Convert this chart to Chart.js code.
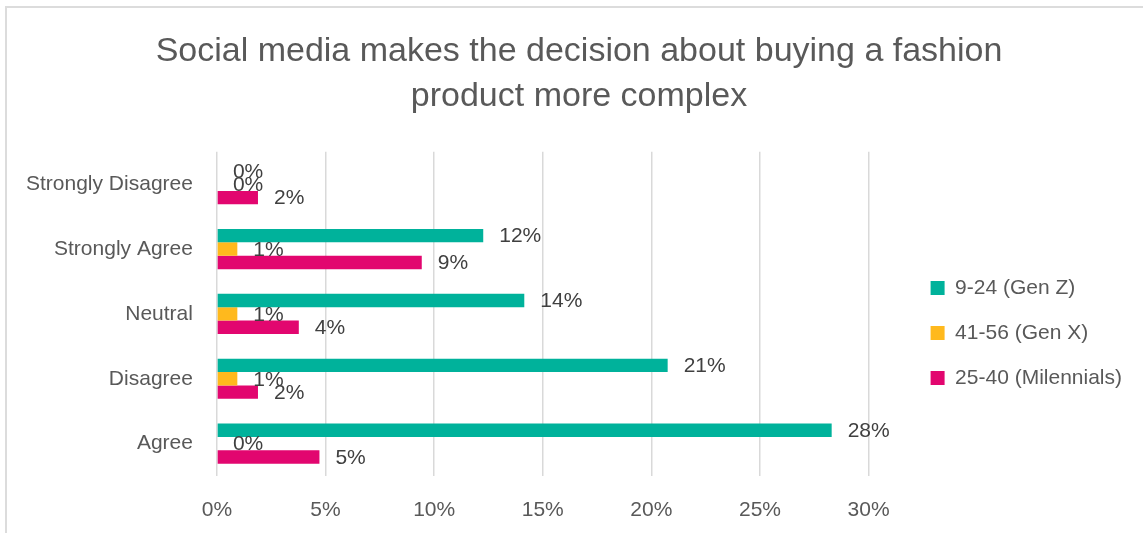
<!DOCTYPE html>
<html>
<head>
<meta charset="utf-8">
<script src="https://cdn.jsdelivr.net/npm/chart.js@4"></script>
<style>
  html, body { margin: 0; padding: 0; background: #fff; overflow: hidden; }
  #wrap { position: relative; width: 1143px; height: 533px; }
  #frame {
    position: absolute; left: 5px; top: 6px; width: 1200px; height: 600px;
    border-top: 2px solid #dcdcdc; border-left: 2px solid #dcdcdc;
  }
  #chart { position: absolute; left: 0; top: 0; }
</style>
</head>
<body>
<div id="wrap">
  <div id="frame"></div>
  <canvas id="chart" width="1143" height="533"></canvas>
</div>
<script>
const categories = ['Strongly Disagree', 'Strongly Agree', 'Neutral', 'Disagree', 'Agree'];
const genZ = [0, 12.26, 14.15, 20.75, 28.30];
const genX = [0, 0.94, 0.94, 0.94, 0];
const millennials = [1.89, 9.43, 3.77, 1.89, 4.72];
const xTicks = [0, 5, 10, 15, 20, 25, 30];

const textGrey = '#595959';
const font = 'Liberation Sans, Arial, sans-serif';

// value labels at the end of every bar
const barLabels = {
  id: 'barLabels',
  afterDatasetsDraw(chart) {
    const ctx = chart.ctx;
    ctx.save();
    ctx.font = `21px ${font}`;
    ctx.fillStyle = '#404040';
    ctx.textAlign = 'left';
    ctx.textBaseline = 'middle';
    chart.data.datasets.forEach((ds, i) => {
      chart.getDatasetMeta(i).data.forEach((bar, j) => {
        ctx.fillText(Math.round(ds.data[j]) + '%', bar.x + 16, bar.y + 1);
      });
    });
    ctx.restore();
  }
};

// legend sits a bit away from the plot, title is centred on the whole frame
const blockShift = {
  id: 'blockShift',
  afterLayout(chart) {
    const lg = chart.legend;
    lg.left += 38; lg.right += 38;
    lg.top += 19; lg.bottom += 19;
    const tb = chart.titleBlock;
    tb.left += 31; tb.right += 31;
  }
};

new Chart(document.getElementById('chart'), {
  type: 'bar',
  data: {
    labels: categories,
    datasets: [
      { label: '9-24 (Gen Z)', data: genZ, backgroundColor: '#00B29B' },
      { label: '41-56 (Gen X)', data: genX, backgroundColor: '#FFB91D' },
      { label: '25-40 (Milennials)', data: millennials, backgroundColor: '#E2066F' },
    ],
  },
  options: {
    indexAxis: 'y',
    responsive: false,
    animation: false,
    layout: { padding: { left: 2, right: 49, top: 0, bottom: 0 } },
    datasets: { bar: { categoryPercentage: 0.62, barPercentage: 1.0 } },
    scales: {
      x: {
        min: 0, max: 30,
        afterBuildTicks(scale) { scale.ticks = xTicks.map(v => ({ value: v })); },
        afterFit(scale) { scale.height = 57; },
        ticks: { color: textGrey, font: { family: font, size: 21 }, padding: 22, callback: v => v + '%' },
        grid: { color: '#d9d9d9', lineWidth: 1.5, drawTicks: false },
        border: { display: false },
      },
      y: {
        ticks: { color: textGrey, font: { family: font, size: 21 }, padding: 24 },
        grid: { display: false, drawTicks: false },
        border: { display: false },
      },
    },
    plugins: {
      title: {
        display: true,
        text: ['Social media makes the decision about buying a fashion', 'product more complex'],
        color: textGrey,
        font: { family: font, size: 34, weight: 'normal', lineHeight: 1.32 },
        padding: { top: 29, bottom: 33 },
      },
      legend: {
        position: 'right',
        fullSize: false,
        labels: {
          color: textGrey,
          font: { family: font, size: 21 },
          boxWidth: 14,
          boxHeight: 14,
          padding: 24,
        },
      },
      tooltip: { enabled: false },
    },
  },
  plugins: [barLabels, blockShift],
});
</script>
</body>
</html>
